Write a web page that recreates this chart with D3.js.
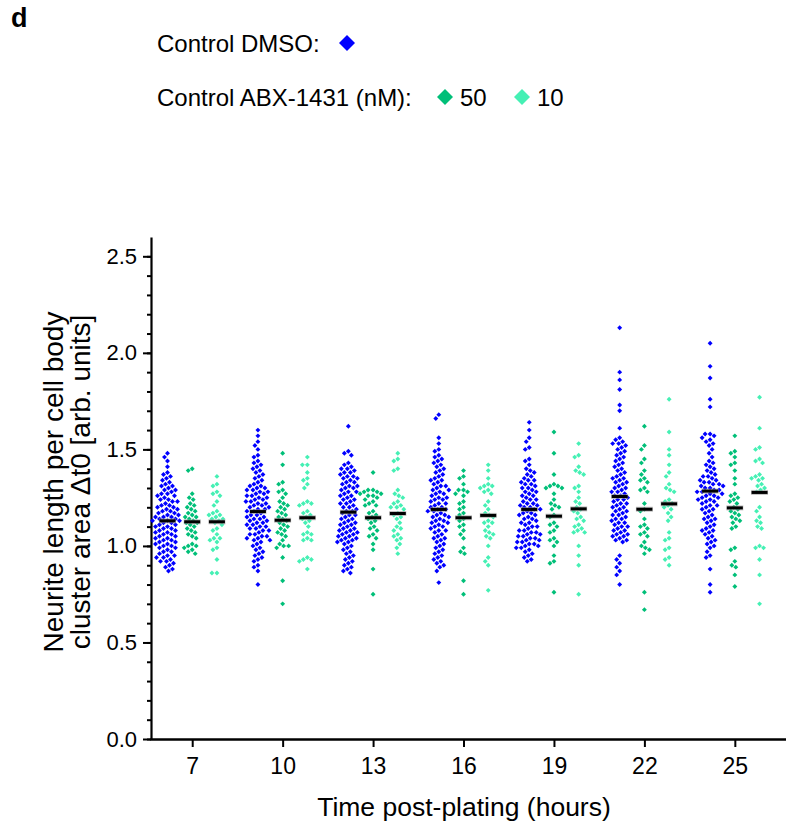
<!DOCTYPE html>
<html>
<head>
<meta charset="utf-8">
<script src="https://cdn.jsdelivr.net/npm/d3@7"></script>
<style>
  body { margin: 0; background: #fff; }
  text { font-family: Arial, "Liberation Sans", sans-serif; fill: #000; }
</style>
</head>
<body>
<div id="chart"></div>
<script>
// time points and group setup
const timePoints = [7, 10, 13, 16, 19, 22, 25];
const groupOffsets = [-0.82, 0, 0.82];   // hours, DMSO / 50 nM / 10 nM
const groupColours = ['#0000ff', '#00bf78', '#45f0b4'];
const yTicks = [0, 0.5, 1.0, 1.5, 2.0, 2.5];

// Control DMSO, one list per time point
const dmsoByTime = [
  [1.48,1.46,1.44,1.41,1.38,1.37,1.36,1.35,1.34,1.33,1.32,1.31,1.31,1.30,1.29,1.29,1.28,1.27,1.27,1.26,1.26,1.25,1.24,1.24,1.23,1.23,1.22,1.21,1.21,1.20,1.20,1.19,1.19,1.18,1.18,1.17,1.17,1.16,1.16,1.15,1.15,1.15,1.14,1.14,1.13,1.13,1.13,1.12,1.12,1.11,1.11,1.10,1.10,1.09,1.09,1.08,1.08,1.07,1.07,1.06,1.06,1.05,1.05,1.04,1.04,1.03,1.03,1.02,1.02,1.01,1.01,1.00,1.00,0.99,0.99,0.98,0.97,0.97,0.96,0.95,0.95,0.94,0.94,0.93,0.92,0.92,0.91,0.90,0.89,0.88,0.87],
  [1.60,1.57,1.54,1.52,1.50,1.47,1.46,1.44,1.43,1.42,1.41,1.40,1.39,1.38,1.37,1.36,1.35,1.34,1.33,1.32,1.31,1.31,1.30,1.30,1.29,1.29,1.28,1.28,1.27,1.27,1.26,1.26,1.25,1.25,1.24,1.24,1.23,1.23,1.22,1.22,1.21,1.21,1.20,1.20,1.19,1.19,1.18,1.18,1.17,1.16,1.16,1.15,1.15,1.14,1.14,1.13,1.13,1.12,1.12,1.11,1.11,1.10,1.10,1.09,1.09,1.08,1.08,1.07,1.06,1.06,1.05,1.05,1.04,1.04,1.03,1.03,1.02,1.01,1.00,0.99,0.98,0.97,0.96,0.95,0.94,0.93,0.92,0.90,0.89,0.87,0.80],
  [1.62,1.49,1.48,1.47,1.43,1.42,1.41,1.40,1.40,1.39,1.38,1.38,1.37,1.36,1.36,1.35,1.35,1.34,1.33,1.33,1.32,1.31,1.31,1.30,1.30,1.29,1.28,1.28,1.27,1.26,1.26,1.25,1.24,1.24,1.23,1.22,1.22,1.21,1.20,1.20,1.19,1.18,1.18,1.17,1.16,1.16,1.15,1.14,1.14,1.13,1.12,1.12,1.11,1.11,1.10,1.09,1.09,1.08,1.08,1.07,1.07,1.06,1.06,1.05,1.05,1.04,1.04,1.03,1.03,1.02,1.02,1.01,1.00,0.99,0.98,0.97,0.96,0.95,0.94,0.93,0.92,0.91,0.90,0.89,0.88,0.87,0.86],
  [1.68,1.66,1.56,1.53,1.50,1.49,1.47,1.46,1.45,1.44,1.43,1.42,1.41,1.40,1.39,1.38,1.37,1.36,1.35,1.34,1.34,1.33,1.32,1.31,1.31,1.30,1.29,1.29,1.28,1.27,1.27,1.26,1.25,1.25,1.24,1.24,1.23,1.22,1.22,1.21,1.20,1.20,1.19,1.19,1.18,1.18,1.17,1.16,1.16,1.15,1.15,1.14,1.13,1.13,1.12,1.12,1.11,1.10,1.10,1.09,1.08,1.08,1.07,1.06,1.05,1.04,1.04,1.03,1.02,1.01,1.00,0.99,0.98,0.97,0.96,0.95,0.94,0.93,0.92,0.91,0.90,0.89,0.87,0.81],
  [1.64,1.60,1.56,1.54,1.51,1.50,1.45,1.44,1.42,1.40,1.39,1.38,1.37,1.36,1.35,1.34,1.34,1.33,1.32,1.32,1.31,1.30,1.30,1.29,1.28,1.28,1.27,1.26,1.26,1.25,1.24,1.24,1.23,1.22,1.22,1.21,1.21,1.20,1.20,1.19,1.19,1.18,1.17,1.17,1.16,1.16,1.15,1.14,1.14,1.13,1.12,1.12,1.11,1.10,1.10,1.09,1.08,1.08,1.07,1.07,1.06,1.06,1.05,1.05,1.04,1.04,1.03,1.03,1.02,1.02,1.01,1.01,1.00,1.00,0.99,0.99,0.98,0.97,0.96,0.95,0.94,0.93,0.92],
  [2.13,1.90,1.86,1.81,1.73,1.70,1.61,1.56,1.55,1.54,1.53,1.53,1.52,1.51,1.50,1.49,1.48,1.47,1.46,1.45,1.44,1.43,1.42,1.41,1.40,1.39,1.38,1.37,1.36,1.35,1.35,1.34,1.33,1.33,1.32,1.31,1.30,1.30,1.29,1.28,1.28,1.27,1.26,1.26,1.25,1.24,1.24,1.23,1.22,1.22,1.21,1.20,1.20,1.19,1.18,1.18,1.17,1.16,1.16,1.15,1.14,1.14,1.13,1.12,1.12,1.11,1.10,1.10,1.09,1.08,1.08,1.07,1.06,1.06,1.05,1.05,1.04,1.03,1.03,1.02,0.95,0.93,0.91,0.89,0.87,0.85,0.80],
  [2.05,1.93,1.87,1.76,1.72,1.58,1.58,1.57,1.56,1.55,1.54,1.53,1.52,1.50,1.48,1.46,1.44,1.43,1.42,1.41,1.40,1.39,1.38,1.37,1.36,1.36,1.35,1.34,1.34,1.33,1.33,1.32,1.32,1.31,1.31,1.30,1.30,1.29,1.29,1.28,1.28,1.27,1.27,1.26,1.26,1.25,1.25,1.24,1.24,1.23,1.23,1.22,1.21,1.21,1.20,1.19,1.19,1.18,1.17,1.16,1.15,1.14,1.14,1.13,1.12,1.11,1.10,1.09,1.08,1.08,1.07,1.06,1.05,1.04,1.03,1.02,1.01,1.00,0.99,0.97,0.95,0.94,0.88,0.80,0.76]
];

// Control ABX-1431 50 nM
const abx50ByTime = [
  [1.40,1.39,1.27,1.25,1.24,1.22,1.21,1.20,1.19,1.18,1.17,1.16,1.15,1.15,1.14,1.13,1.12,1.12,1.11,1.10,1.09,1.08,1.07,1.06,1.05,1.04,1.01,1.00,1.00,0.99,0.98,0.97,0.96],
  [1.48,1.42,1.33,1.32,1.29,1.28,1.27,1.25,1.23,1.22,1.21,1.20,1.19,1.18,1.17,1.16,1.15,1.14,1.13,1.12,1.11,1.10,1.09,1.08,1.07,1.06,1.05,1.03,1.01,1.00,1.00,0.99,0.94,0.82,0.70],
  [1.38,1.29,1.29,1.28,1.28,1.27,1.27,1.26,1.26,1.25,1.24,1.23,1.22,1.21,1.21,1.18,1.17,1.16,1.15,1.14,1.13,1.12,1.10,1.09,1.08,1.06,1.05,1.04,1.01,0.98,0.88,0.75],
  [1.39,1.36,1.35,1.32,1.29,1.29,1.28,1.27,1.26,1.23,1.22,1.20,1.19,1.17,1.16,1.14,1.13,1.11,1.10,1.08,1.06,1.04,0.99,0.97,0.96,0.82,0.75],
  [1.59,1.48,1.37,1.32,1.31,1.31,1.30,1.30,1.27,1.24,1.22,1.21,1.20,1.19,1.16,1.15,1.12,1.11,1.10,1.08,1.07,1.04,1.03,1.02,1.00,0.95,0.92,0.91,0.76],
  [1.62,1.52,1.50,1.45,1.43,1.39,1.37,1.35,1.34,1.33,1.30,1.29,1.28,1.22,1.19,1.18,1.14,1.11,1.10,1.09,1.07,1.06,1.05,1.02,1.00,0.99,0.98,0.96,0.76,0.67],
  [1.57,1.49,1.48,1.46,1.43,1.42,1.39,1.35,1.32,1.27,1.26,1.25,1.24,1.23,1.22,1.20,1.19,1.18,1.17,1.16,1.15,1.14,1.13,1.12,1.10,1.09,0.99,0.98,0.92,0.90,0.89,0.85,0.79]
];

// Control ABX-1431 10 nM
const abx10ByTime = [
  [1.36,1.32,1.31,1.28,1.27,1.26,1.23,1.21,1.18,1.17,1.16,1.16,1.15,1.14,1.14,1.13,1.12,1.11,1.09,1.08,1.06,1.04,1.04,1.03,1.02,0.99,0.98,0.93,0.86,0.86],
  [1.46,1.42,1.42,1.38,1.35,1.34,1.32,1.30,1.23,1.22,1.22,1.21,1.18,1.17,1.16,1.15,1.14,1.13,1.12,1.10,1.07,1.06,1.06,1.04,1.03,1.03,0.94,0.93,0.93,0.92,0.88],
  [1.48,1.45,1.44,1.40,1.39,1.29,1.27,1.26,1.25,1.23,1.22,1.21,1.20,1.20,1.19,1.17,1.16,1.15,1.14,1.12,1.10,1.09,1.08,1.06,1.05,1.04,1.03,1.01,0.99,0.96],
  [1.42,1.39,1.35,1.32,1.31,1.31,1.30,1.29,1.28,1.27,1.23,1.21,1.19,1.17,1.16,1.15,1.13,1.12,1.12,1.10,1.08,1.07,1.06,1.05,1.04,1.00,0.94,0.92,0.90,0.77],
  [1.53,1.47,1.46,1.41,1.39,1.38,1.37,1.31,1.30,1.28,1.25,1.23,1.22,1.20,1.19,1.18,1.17,1.15,1.14,1.13,1.11,1.10,1.09,1.08,1.07,1.07,1.00,0.95,0.90,0.75],
  [1.76,1.59,1.50,1.47,1.42,1.38,1.36,1.32,1.30,1.29,1.28,1.24,1.23,1.22,1.21,1.20,1.19,1.17,1.15,1.13,1.07,1.04,1.03,0.99,0.98,0.94,0.93,0.90],
  [1.77,1.61,1.51,1.50,1.45,1.44,1.43,1.37,1.36,1.35,1.35,1.34,1.32,1.31,1.30,1.29,1.28,1.20,1.18,1.15,1.13,1.12,1.10,1.09,1.00,0.99,0.99,0.93,0.85,0.70]
];

// group means (black bars)
const dmsoMeans  = [1.130, 1.178, 1.175, 1.189, 1.189, 1.256, 1.284];
const abx50Means = [1.125, 1.133, 1.146, 1.146, 1.154, 1.190, 1.197];
const abx10Means = [1.125, 1.146, 1.168, 1.158, 1.192, 1.218, 1.277];

const width = 786, height = 830;

let svg = d3.select('#chart')
  .append('svg')
    .attr('width', width)
    .attr('height', height);

// scales
let x = d3.scaleLinear().domain([5.6, 26.83]).range([150, 790]);
let y = d3.scaleLinear().domain([0, 2.6]).range([739, 237]);

// panel letter
svg.append('text')
  .attr('x', 11).attr('y', 27)
  .style('font-size', '27px').style('font-weight', 'bold')
  .text('d');

// legend
let diamond = d3.symbol().type(d3.symbolSquare);

svg.append('text').attr('x', 157).attr('y', 52)
  .style('font-size', '24px').text('Control DMSO:');
svg.append('path')
  .attr('d', diamond.size(128)())
  .attr('transform', 'translate(347,43) rotate(45)')
  .attr('fill', groupColours[0]);

svg.append('text').attr('x', 157).attr('y', 106)
  .style('font-size', '24px').text('Control ABX-1431 (nM):');
let legendDoses = [{label: '50', cx: 445, c: groupColours[1]}, {label: '10', cx: 522, c: groupColours[2]}];
legendDoses.forEach(function(d) {
  svg.append('path')
    .attr('d', diamond.size(128)())
    .attr('transform', `translate(${d.cx},97) rotate(45)`)
    .attr('fill', d.c);
  svg.append('text').attr('x', d.cx + 15).attr('y', 106)
    .style('font-size', '24px').text(d.label);
});

// y axis: minor ticks then major ticks with labels
svg.append('g')
  .attr('transform', 'translate(151,0)')
  .call(d3.axisLeft(y).tickValues(d3.range(0, 26).map(function(i){ return i / 10 }))
    .tickSize(4).tickSizeOuter(0).tickFormat(''))
  .call(function(g){ g.selectAll('line').attr('stroke-width', 2); g.select('.domain').attr('stroke-width', 2.2); });

svg.append('g')
  .attr('transform', 'translate(151,0)')
  .call(d3.axisLeft(y).tickValues(yTicks).tickSize(8).tickSizeOuter(0).tickPadding(6)
    .tickFormat(d3.format('.1f')))
  .call(function(g){
    g.select('.domain').remove();
    g.selectAll('line').attr('stroke-width', 2);
    g.selectAll('text').style('font-size', '22px').attr('font-family', null);
  });

// x axis
svg.append('g')
  .attr('transform', 'translate(0,739)')
  .call(d3.axisBottom(x).tickValues(timePoints).tickSize(8).tickSizeOuter(0).tickPadding(11))
  .call(function(g){
    g.select('.domain').attr('stroke-width', 2.4);
    g.selectAll('line').attr('stroke-width', 2);
    g.selectAll('text').style('font-size', '23px').attr('font-family', null);
  });

// axis titles
svg.append('text')
  .attr('x', 464).attr('y', 816)
  .style('text-anchor', 'middle').style('font-size', '26.5px')
  .text('Time post-plating (hours)');

let yTitle = svg.append('text')
  .attr('transform', 'translate(0,482) rotate(-90)')
  .style('text-anchor', 'middle').style('font-size', '28px');
yTitle.append('tspan').attr('x', 0).attr('y', 63).text('Neurite length per cell body');
yTitle.append('tspan').attr('x', 0).attr('y', 90).text('cluster area \u0394t0 [arb. units]');

// simple beeswarm: push each point sideways until it no longer overlaps
function swarm(values, cx) {
  let gap = 4.4;
  let placed = [];
  let pts = values.map(function(v){ return {v: v, py: y(v)} })
    .sort(function(a, b){ return a.py - b.py });
  pts.forEach(function(p) {
    for (let k = 0; k < 60; k++) {
      let off = (k % 2 === 0 ? 1 : -1) * Math.ceil(k / 2) * 1.0;
      let ok = placed.every(function(q) {
        let dx = q.px - (cx + off), dy = q.py - p.py;
        return dx * dx + dy * dy >= gap * gap;
      });
      if (ok) { p.px = cx + off; break; }
    }
    placed.push(p);
  });
  return pts;
}

let series = [dmsoByTime, abx50ByTime, abx10ByTime];
let means = [dmsoMeans, abx50Means, abx10Means];
let dot = d3.symbol().type(d3.symbolSquare).size(12)();

let plot = svg.append('g').attr('id', 'points');

series.forEach(function(byTime, gi) {
  byTime.forEach(function(values, ti) {
    let cx = x(timePoints[ti] + groupOffsets[gi]);
    let pts = swarm(values, cx);
    plot.append('g').selectAll('path')
      .data(pts)
      .enter()
      .append('path')
        .attr('d', dot)
        .attr('transform', function(d){ return `translate(${d.px},${d.py}) rotate(45)` })
        .attr('fill', groupColours[gi]);
  });
});

// mean bars
series.forEach(function(byTime, gi) {
  let g = svg.append('g').attr('class', 'means');
  g.selectAll('.halo')
    .data(means[gi])
    .enter()
    .append('line')
      .attr('x1', function(d, i){ return x(timePoints[i] + groupOffsets[gi]) - 8.5 })
      .attr('x2', function(d, i){ return x(timePoints[i] + groupOffsets[gi]) + 8.5 })
      .attr('y1', function(d){ return y(d) })
      .attr('y2', function(d){ return y(d) })
      .attr('stroke', '#999').attr('stroke-opacity', 0.6).attr('stroke-width', 5);
  g.selectAll('.bar')
    .data(means[gi])
    .enter()
    .append('line')
      .attr('x1', function(d, i){ return x(timePoints[i] + groupOffsets[gi]) - 8 })
      .attr('x2', function(d, i){ return x(timePoints[i] + groupOffsets[gi]) + 8 })
      .attr('y1', function(d){ return y(d) })
      .attr('y2', function(d){ return y(d) })
      .attr('stroke', '#000').attr('stroke-width', 3);
});
</script>
</body>
</html>
